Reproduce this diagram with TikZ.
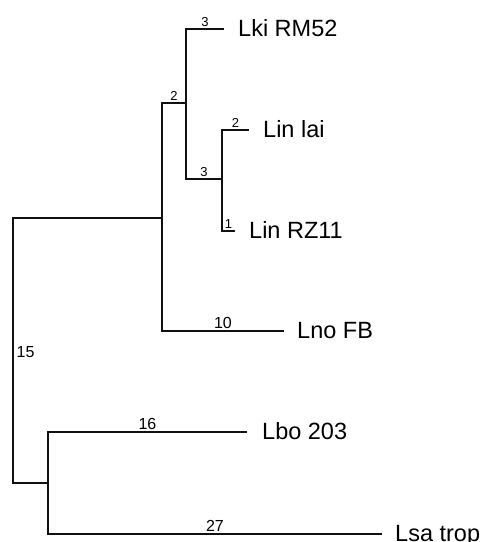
\documentclass[tikz,border=0pt]{standalone}
\usepackage{fontspec}
\setmainfont{Liberation Sans}
\usepackage{tikz}
\usetikzlibrary{positioning}
\definecolor{cBranch}{HTML}{111111}

\begin{document}
\begin{tikzpicture}[x=1pt, y=-1pt,
    branch/.style={draw=cBranch, line width=1.5pt, line join=miter},
    taxon/.style={inner sep=0pt, font=\fontsize{23.5}{28}\selectfont, yshift=-7pt},
    lenbig/.style={inner sep=1.5pt, font=\fontsize{16}{19}\selectfont},
    lensmall/.style={inner sep=1.5pt, font=\fontsize{13}{15}\selectfont},
  ]
  \useasboundingbox (0,0) rectangle (483,542);
  % internal nodes of the tree
  \coordinate (root) at (13,352);
  \coordinate (nA)   at (162,218);
  \coordinate (nB)   at (48,483);
  \coordinate (nC)   at (186,103);
  \coordinate (nD)   at (222,179);
  % branch tips
  \coordinate (tLki) at (224,29);
  \coordinate (tLai) at (249,130);
  \coordinate (tRZ)  at (235,231);
  \coordinate (tLno) at (284,331);
  \coordinate (tLbo) at (247,432);
  \coordinate (tLsa) at (382,534);
  % taxa
  \node[taxon, base right=14pt of tLki] (Lki) {Lki RM52};
  \node[taxon, base right=14pt of tLai] (Lai) {Lin lai};
  \node[taxon, base right=14pt of tRZ]  (RZ)  {Lin RZ11};
  \node[taxon, base right=13pt of tLno] (Lno) {Lno FB};
  \node[taxon, base right=15pt of tLbo] (Lbo) {Lbo 203};
  \node[taxon, base right=13pt of tLsa] (Lsa) {Lsa trop};
  % branches with their lengths
  \draw[branch] (root) |- (nA);
  \draw[branch] (root) |- (nB);
  \node[lenbig, right=2pt of root] (l15) {15};
  \draw[branch] (nA) |- node[lensmall, pos=0.75, above] (l2a) {2} (nC);
  \draw[branch] (nA) |- node[lenbig, pos=0.75, above] (l10) {10} (tLno);
  \draw[branch] (nC) |- node[lensmall, pos=0.75, above] (l3a) {3} (tLki);
  \draw[branch] (nC) |- node[lensmall, pos=0.75, above] (l3b) {3} (nD);
  \draw[branch] (nD) |- node[lensmall, pos=0.75, above] (l2b) {2} (tLai);
  \draw[branch] (nD) |- node[lensmall, pos=0.75, above] (l1) {1} (tRZ);
  \draw[branch] (nB) |- node[lenbig, pos=0.75, above] (l16) {16} (tLbo);
  \draw[branch] (nB) |- node[lenbig, pos=0.75, above] (l27) {27} (tLsa);
\end{tikzpicture}
\end{document}
